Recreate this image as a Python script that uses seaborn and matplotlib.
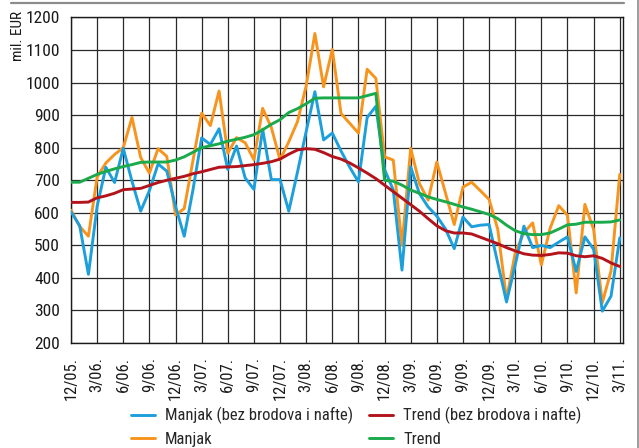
import matplotlib
matplotlib.use("Agg")
import matplotlib.pyplot as plt
import numpy as np
import pandas as pd
import seaborn as sns
from matplotlib.lines import Line2D
from matplotlib import font_manager

# Monthly foreign-trade deficit, Dec 2005 - Mar 2011 (mil. EUR)
tick_labels = ["12/05.", "3/06.", "6/06.", "9/06.", "12/06.", "3/07.", "6/07.", "9/07.",
               "12/07.", "3/08.", "6/08.", "9/08.", "12/08.", "3/09.", "6/09.", "9/09.",
               "12/09.", "3/10.", "6/10.", "9/10.", "12/10.", "3/11."]

manjak_bez = [603, 560, 411, 620, 740, 693, 798, 697, 605, 668, 750, 728, 620, 528, 670, 830,
              810, 858, 733, 805, 707, 672, 857, 702, 702, 605, 725, 850, 972, 824, 845, 790,
              740, 695, 893, 927, 733, 670, 424, 741, 659, 618, 590, 550, 490, 587, 557, 562,
              564, 445, 326, 440, 559, 493, 500, 493, 510, 526, 420, 526, 488, 298, 344, 523]

manjak = [608, 558, 528, 710, 753, 779, 800, 893, 770, 722, 797, 773, 593, 613, 760, 906,
          868, 974, 783, 831, 815, 763, 921, 862, 763, 818, 880, 990, 1151, 987, 1102, 905,
          875, 845, 1041, 1013, 772, 762, 500, 798, 690, 639, 756, 660, 564, 679, 694, 668,
          641, 549, 334, 477, 539, 569, 440, 552, 622, 592, 354, 626, 549, 324, 421, 718]

trend_bez = [632, 632, 633, 646, 652, 660, 671, 673, 675, 684, 693, 700, 706, 712, 720, 726,
             733, 740, 741, 742, 745, 748, 752, 757, 765, 780, 793, 797, 795, 785, 773, 765,
             753, 738, 722, 705, 685, 665, 645, 625, 605, 582, 560, 545, 538, 538, 535, 525,
             515, 505, 493, 483, 474, 470, 469, 472, 477, 476, 468, 465, 468, 460, 446, 435]

trend = [694, 694, 706, 718, 727, 735, 742, 748, 755, 756, 756, 756, 762, 772, 786, 800,
         806, 812, 820, 826, 832, 840, 855, 872, 886, 908, 920, 935, 952, 953, 953, 953,
         953, 953, 960, 967, 700, 697, 685, 670, 660, 649, 641, 634, 626, 618, 611, 603,
         595, 582, 562, 545, 536, 533, 533, 538, 550, 563, 565, 571, 571, 571, 572, 578]

labels = ["Manjak (bez brodova i nafte)", "Manjak", "Trend (bez brodova i nafte)", "Trend"]
colors = {"Manjak (bez brodova i nafte)": "#1c9fdb", "Manjak": "#f7941e",
          "Trend (bez brodova i nafte)": "#b3141c", "Trend": "#1aaa4b"}

sns.set_theme(style="white")

# prefer a condensed face when one is installed
installed = {f.name for f in font_manager.fontManager.ttflist}
narrow = next((n for n in ["Liberation Sans Narrow", "Roboto Condensed",
                           "Open Sans Condensed", "Arial Narrow"] if n in installed), None)
if narrow:
    plt.rcParams["font.family"] = [narrow, "Liberation Sans", "DejaVu Sans"]
    legend_size, xtick_size, ytick_size = 12, 12, 12.5
else:
    plt.rcParams["font.family"] = ["Liberation Sans", "DejaVu Sans"]
    legend_size, xtick_size, ytick_size = 10.2, 11, 12

month_idx = np.arange(len(manjak))
df = pd.DataFrame({"mjesec": month_idx,
                   labels[0]: manjak_bez, labels[1]: manjak,
                   labels[2]: trend_bez, labels[3]: trend})

fig = plt.figure(figsize=(6.39, 4.48), dpi=100)
ax = fig.add_axes([71 / 639, 1 - 343 / 448, (622.7 - 71) / 639, (343 - 17.5) / 448])

draw_order = [labels[1], labels[0], labels[2], labels[3]]
for name in draw_order:
    sns.lineplot(data=df, x="mjesec", y=name, color=colors[name], lw=2.1,
                 ax=ax, legend=False, zorder=3)

ax.set_xlim(0, 63.34)
ax.set_ylim(200, 1200)
ax.set_yticks(range(200, 1201, 100))
ax.set_xticks(range(0, 64, 3))
ax.set_xticklabels(tick_labels, rotation=90, va="top", ha="center")
ax.tick_params(axis="both", length=0, colors="#1a1a1a")
ax.tick_params(axis="y", pad=8, labelsize=ytick_size)
ax.tick_params(axis="x", pad=10, labelsize=xtick_size)
ax.set_xlabel("")
ax.set_ylabel("")
ax.grid(True, color="#2a2a2a", lw=0.9)
ax.set_axisbelow(True)
for sp in ax.spines.values():
    sp.set_color("#1a1a1a")
    sp.set_linewidth(1.0)

fig.text(18 / 639, 1 - 36 / 448, "mil. EUR", rotation=90, ha="center", va="center",
         fontsize=11, color="#1a1a1a")

# legend in two columns placed under the plot
def make_handles(names):
    return [Line2D([0], [0], color=colors[n], lw=2.1) for n in names]

leg_kw = dict(loc="upper left", frameon=False, fontsize=legend_size, handlelength=1.45,
              handletextpad=0.6, borderpad=0, borderaxespad=0, labelspacing=0.45)
for texts, x0 in ((labels[:2], 131), (labels[2:], 369)):
    fig.legend(make_handles(texts), texts,
               bbox_to_anchor=(x0 / 639, 1 - 407 / 448), **leg_kw)

# page frame lines
fig.add_artist(Line2D([11 / 639, 624 / 639], [1 - 2.7 / 448, 1 - 2.7 / 448],
                      color="#8c8c8c", lw=1.6))
fig.add_artist(Line2D([637.6 / 639, 637.6 / 639], [0, 1], color="#8c8c8c", lw=1.2))

fig.savefig("out.png", dpi=100, facecolor="white")
